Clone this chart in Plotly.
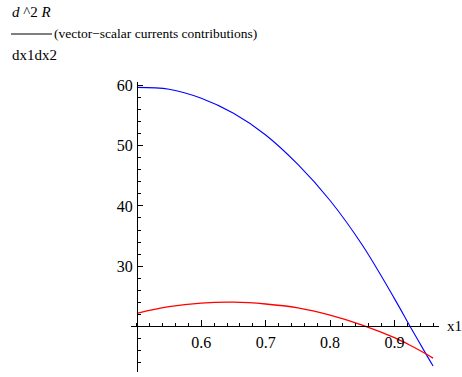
import plotly.graph_objects as go

# sample points along x1
x1 = [0.5, 0.55, 0.6, 0.65, 0.7, 0.75, 0.8, 0.85, 0.9, 0.925, 0.95, 0.96]
# d^2R/dx1dx2, two contributions
blue_vals = [59.7, 59.4, 57.9, 55.4, 51.8, 46.9, 40.9, 33.5, 24.6, 19.85, 15.2, 13.4]
red_vals = [22.15, 23.25, 23.85, 24.0, 23.7, 23.05, 21.85, 20.2, 18.1, 16.8, 15.35, 14.7]

x_ticks = [0.6, 0.7, 0.8, 0.9]
y_ticks = [30, 40, 50, 60]

x_range = [0.4908, 0.9692]
y_range = [12.4, 60.6]
x_origin, y_origin = 0.5, 20

FONT = "'Liberation Serif', 'DejaVu Serif', serif"
W, H = 462, 377
L, R, T, B = 131, 23, 82, 5
pw, ph = W - L - R, H - T - B

fig = go.Figure()
fig.add_trace(go.Scatter(x=x1, y=blue_vals, mode="lines",
                         line=dict(color="#0000ff", width=1.1, shape="spline",
                                   smoothing=1.0)))
fig.add_trace(go.Scatter(x=x1, y=red_vals, mode="lines",
                         line=dict(color="#ff0000", width=1.3, shape="spline",
                                   smoothing=1.0)))

x_pos = (y_origin - y_range[0]) / (y_range[1] - y_range[0])
y_pos = (x_origin - x_range[0]) / (x_range[1] - x_range[0])

fig.update_layout(
    width=W, height=H,
    margin=dict(l=L, r=R, t=T, b=B),
    paper_bgcolor="white", plot_bgcolor="white",
    showlegend=False,
    font=dict(family=FONT, size=15, color="black"),
    xaxis=dict(range=x_range, anchor="free", position=x_pos,
               showgrid=False, zeroline=False,
               showline=True, linecolor="black", linewidth=1,
               tickmode="array", tickvals=x_ticks,
               ticktext=[f"{v:g}" for v in x_ticks],
               ticks="inside", ticklen=6, tickcolor="black", tickwidth=1,
               minor=dict(tickmode="linear", tick0=0.5, dtick=0.02,
                          ticks="inside", ticklen=3.5, tickcolor="black"),
               tickfont=dict(family=FONT, size=16), ticklabelstandoff=2),
    yaxis=dict(range=y_range, anchor="free", position=y_pos,
               showgrid=False, zeroline=False,
               showline=True, linecolor="black", linewidth=1,
               tickmode="array", tickvals=y_ticks,
               ticktext=[str(v) for v in y_ticks],
               ticks="inside", ticklen=5, tickcolor="black", tickwidth=1,
               minor=dict(tickmode="linear", tick0=0, dtick=2,
                          ticks="inside", ticklen=3, tickcolor="black"),
               tickfont=dict(family=FONT, size=16), ticklabelstandoff=1),
)


def px(xp):
    return (xp - L) / pw


def py(yp):
    return (H - B - yp) / ph


# axis label for x1
fig.add_annotation(x=px(445), y=y_origin, xref="paper", yref="y",
                   text="x1", showarrow=False, xanchor="left", yanchor="middle",
                   font=dict(family=FONT, size=15))

# y-axis label: derivative written as a fraction
fig.add_annotation(x=px(31), y=py(12), xref="paper", yref="paper",
                   text="<i>d</i> ^2 <i>R</i>", showarrow=False,
                   xanchor="center", yanchor="middle",
                   font=dict(family=FONT, size=15))
fig.add_shape(type="line", xref="paper", yref="paper",
              x0=px(11), x1=px(52), y0=py(34), y1=py(34),
              line=dict(color="black", width=1))
fig.add_annotation(x=px(52), y=py(34), xref="paper", yref="paper",
                   text="(vector−scalar currents contributions)",
                   showarrow=False, xanchor="left", yanchor="middle",
                   font=dict(family=FONT, size=13.5))
fig.add_annotation(x=px(10), y=py(55), xref="paper", yref="paper",
                   text="dx1dx2", showarrow=False, xanchor="left", yanchor="middle",
                   font=dict(family=FONT, size=15))

fig.write_html("out.html")
